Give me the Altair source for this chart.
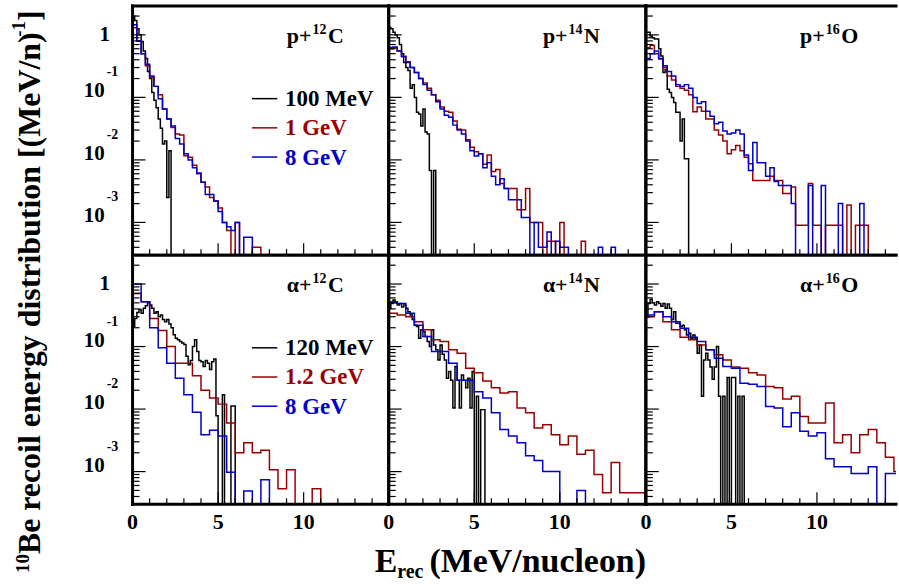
import altair as alt
import pandas as pd

FONT = "Liberation Serif"
BLACK, RED, BLUE = "#000000", "#990000", "#0000cc"

# ---------------- data ----------------
BW_BLACK = 0.125   # bin width of the low-energy histograms (MeV/nucleon)
BW_P = 0.25        # bin width of p 1 GeV / 8 GeV histograms
BW_A = 0.5         # bin width of alpha 1.2 GeV / 8 GeV histograms

p12C_100MeV = [2.0, 1.7, 1.25, 1.0, 0.78, 0.55, 0.42, 0.26, 0.2, 0.12, 0.09, 0.068,
               0.045, 0.032, 0.018, 0.02, 0.0025, 0.014]
p12C_1GeV = [1.3, 0.8, 0.5, 0.32, 0.21, 0.15, 0.11, 0.065, 0.045, 0.033, 0.026, 0.025,
             0.0117, 0.011, 0.0082, 0.006, 0.0044, 0.0037, 0.0025, 0.0022, 0.0017, 0.001,
             0.00074, 0, 0.001, 0, 0, 0, 0.0004, 0.0004]
p12C_8GeV = [1.45, 0.8, 0.5, 0.34, 0.22, 0.15, 0.095, 0.065, 0.045, 0.035, 0.022, 0.018,
             0.0125, 0.01, 0.0075, 0.0062, 0.0044, 0.0028, 0.0028, 0.0022, 0.0015, 0.001,
             0.00085, 0.00074, 0.001, 0, 0.00058, 0.00058]

p14N_100MeV = [1.31, 1.25, 1.1, 1.0, 0.9, 0.7, 0.5, 0.36, 0.3, 0.27, 0.14, 0.16, 0.1,
               0.058, 0.054, 0.035, 0.065, 0.028, 0.026, 0.0068, 0, 0.0068]
p14N_1GeV = [0.6, 0.62, 0.55, 0.45, 0.37, 0.3, 0.25, 0.2, 0.17, 0.14, 0.11, 0.09, 0.07,
             0.06, 0.058, 0.042, 0.031, 0.03, 0.021, 0.016, 0.0135, 0.0125, 0.0085, 0.012,
             0.0065, 0.007, 0.0042, 0.0035, 0.0035, 0.0035, 0.0016, 0.0016, 0.0035, 0.001,
             0.001, 0.001, 0, 0.0005, 0.0005, 0, 0.001, 0, 0, 0, 0, 0.0005]
p14N_8GeV = [0.63, 0.64, 0.55, 0.45, 0.36, 0.3, 0.25, 0.2, 0.16, 0.13, 0.11, 0.085, 0.065,
             0.052, 0.048, 0.036, 0.03, 0.026, 0.02, 0.014, 0.0115, 0.0125, 0.0075, 0.009,
             0.0055, 0.004, 0.005, 0.0035, 0.0023, 0.0023, 0.0023, 0.0012, 0.0012, 0, 0.001,
             0.0004, 0.0004, 0.0007, 0, 0.0005, 0.0004, 0.0004, 0, 0, 0, 0, 0, 0, 0, 0.0004,
             0, 0, 0.0004]

p16O_100MeV = [1.1, 1.1, 0.96, 0.9, 0.86, 0.86, 0.6, 0.46, 0.25, 0.28, 0.135, 0.12, 0.1,
               0.083, 0.058, 0.058, 0.02, 0.045, 0.0104, 0.0104]
p16O_1GeV = [0.62, 0.68, 0.5, 0.41, 0.3, 0.22, 0.19, 0.15, 0.14, 0.13, 0.11, 0.059, 0.07,
             0.06, 0.045, 0.045, 0.03, 0.025, 0.02, 0.0125, 0.0145, 0.017, 0.014, 0.011,
             0.0087, 0.0047, 0.0047, 0.0047, 0.0047, 0.0055, 0.0047, 0.0047, 0.0029, 0.0029,
             0.0037, 0.0009, 0.0009, 0.0009, 0.0042, 0.0009, 0.0009, 0, 0.0009, 0.0009,
             0.0009, 0.0009, 0, 0.0019, 0, 0.0009, 0.0009, 0.0009]
p16O_8GeV = [0.42, 0.5, 0.55, 0.42, 0.32, 0.26, 0.22, 0.16, 0.15, 0.16, 0.14, 0.1, 0.08,
             0.085, 0.06, 0.05, 0.038, 0.04, 0.029, 0.026, 0.027, 0.03, 0.026, 0.012, 0.0068,
             0.019, 0.009, 0.009, 0.0055, 0.0075, 0.0045, 0.0039, 0.0039, 0.0039, 0.002, 0, 0,
             0, 0.0039, 0, 0, 0.0039, 0, 0, 0, 0.002, 0, 0, 0, 0, 0.002]

a12C_120MeV = [0.21, 0.28, 0.35, 0.39, 0.34, 0.41, 0.45, 0.5, 0.46, 0.41, 0.34, 0.36, 0.3,
               0.32, 0.27, 0.25, 0.27, 0.23, 0.2, 0.154, 0.136, 0.128, 0.12, 0.114, 0.108,
               0.07, 0.051, 0.06, 0.1, 0.128, 0.083, 0.06, 0.057, 0.048, 0.06, 0.054, 0.043,
               0.057, 0.063, 0.0078, 0, 0, 0.017, 0, 0, 0, 0.0112, 0.0112]
a12C_1200MeV = [0.71, 0.52, 0.28, 0.18, 0.1, 0.054, 0.054, 0.034, 0.02, 0.015, 0.012,
                0.006, 0.002, 0.0029, 0.002, 0.0022, 0.00107, 0.00053, 0.00107, 0, 0, 0.00053]
a12C_8GeV = [1.0, 0.52, 0.2, 0.096, 0.054, 0.031, 0.017, 0.0089, 0.0039, 0.0046, 0.0037,
             0.00098, 0, 0.00049, 0, 0.00074]

a14N_120MeV = [0.41, 0.49, 0.556, 0.5, 0.46, 0.49, 0.43, 0.46, 0.41, 0.36, 0.32, 0.27, 0.22,
               0.21, 0.136, 0.185, 0.174, 0.145, 0.12, 0.1, 0.185, 0.106, 0.089, 0.061, 0.106,
               0.075, 0.061, 0.031, 0.04, 0.029, 0.0104, 0.048, 0.029, 0.0104, 0.035, 0.029,
               0.022, 0.031, 0.0104, 0.04, 0, 0.016, 0, 0.0098, 0.0098]
a14N_1200MeV = [0.34, 0.32, 0.3, 0.25, 0.185, 0.128, 0.12, 0.089, 0.078, 0.045, 0.038, 0.028,
                0.022, 0.018, 0.019, 0.0104, 0.0087, 0.005, 0.0056, 0.0039, 0.0027, 0.0037,
                0.0019, 0.0022, 0.0009, 0.00046, 0.0014, 0.00046, 0.00046, 0.00046]
a14N_8GeV = [0.52, 0.49, 0.34, 0.22, 0.145, 0.083, 0.083, 0.054, 0.029, 0.029, 0.019, 0.015,
             0.0087, 0.0047, 0.0037, 0.0029, 0.0018, 0.0015, 0.001, 0.001, 0, 0, 0.0005]

a16O_120MeV = [0.3, 0.49, 0.57, 0.5, 0.46, 0.52, 0.49, 0.44, 0.49, 0.41, 0.48, 0.41, 0.27,
               0.36, 0.236, 0.236, 0.21, 0.22, 0.185, 0.153, 0.163, 0.136, 0.153, 0.136, 0.078,
               0.106, 0.016, 0.061, 0.078, 0.061, 0.047, 0.03, 0.047, 0.1, 0.016, 0, 0.016, 0,
               0.032, 0, 0.032, 0.032, 0, 0.016, 0, 0.016]
a16O_1200MeV = [0.3, 0.36, 0.25, 0.185, 0.141, 0.128, 0.106, 0.089, 0.074, 0.061, 0.047,
                0.045, 0.038, 0.035, 0.023, 0.022, 0.0145, 0.016, 0.0076, 0.006, 0.006, 0.0125,
                0.0029, 0.0039, 0.002, 0.0039, 0.0047, 0.0029, 0.0017, 0.001]
a16O_8GeV = [0.32, 0.36, 0.3, 0.25, 0.196, 0.141, 0.12, 0.089, 0.065, 0.048, 0.045, 0.026,
             0.025, 0.023, 0.011, 0.0104, 0.0052, 0.0087, 0.0044, 0.0037, 0.0042, 0.0016,
             0.0012, 0.0012, 0.00093, 0.00093, 0.0012, 0, 0.00093, 0.00093]

P_LEGEND = ["100 MeV", "1 GeV", "8 GeV"]
A_LEGEND = ["120 MeV", "1.2 GeV", "8 GeV"]
COLORS = [BLACK, RED, BLUE]

PANELS = [
    [("p+", "12", "C", [p12C_100MeV, p12C_1GeV, p12C_8GeV], [BW_BLACK, BW_P, BW_P], P_LEGEND),
     ("p+", "14", "N", [p14N_100MeV, p14N_1GeV, p14N_8GeV], [BW_BLACK, BW_P, BW_P], None),
     ("p+", "16", "O", [p16O_100MeV, p16O_1GeV, p16O_8GeV], [BW_BLACK, BW_P, BW_P], None)],
    [("\u03b1+", "12", "C", [a12C_120MeV, a12C_1200MeV, a12C_8GeV], [BW_BLACK, BW_A, BW_A], A_LEGEND),
     ("\u03b1+", "14", "N", [a14N_120MeV, a14N_1200MeV, a14N_8GeV], [BW_BLACK, BW_A, BW_A], None),
     ("\u03b1+", "16", "O", [a16O_120MeV, a16O_1200MeV, a16O_8GeV], [BW_BLACK, BW_A, BW_A], None)],
]

Y_MAJOR = [0.001, 0.01, 0.1, 1.0]
Y_MINOR = [3e-4, 4e-4, 5e-4, 6e-4, 7e-4, 8e-4, 9e-4,
           2e-3, 3e-3, 4e-3, 5e-3, 6e-3, 7e-3, 8e-3, 9e-3,
           0.02, 0.03, 0.04, 0.05, 0.06, 0.07, 0.08, 0.09,
           0.2, 0.3, 0.4, 0.5, 0.6, 0.7, 0.8, 0.9, 2.0]
X_MAJOR = [0, 5, 10, 15]
X_MINOR = [1, 2, 3, 4, 6, 7, 8, 9, 11, 12, 13, 14]
Y_LABEL_VALUES = [0.1, 0.01, 0.001]
Y_LABEL_EXPONENTS = ["-1", "-2", "-3"]
X_LABEL_VALUES = [0, 5, 10]

# ---------------- layout constants ----------------
Y_DOMAIN = [3e-4, 2.9]
PX_PER_UNIT = 257.5 / 15.0
COL_WIDTHS = [257, 258, 251]
ROW_H = 250


def steps(values, bw):
    xs = [0.0] + [i * bw for i in range(len(values))] + [len(values) * bw]
    vs = [0.0] + list(values) + [0.0]
    return pd.DataFrame({"x": xs, "v": vs, "i": list(range(len(xs)))})


def txt(label, x, y, size, color="black", align="left", baseline="alphabetic", angle=None,
        weight="bold"):
    kw = dict(align=align, baseline=baseline, font=FONT, fontWeight=weight, fontSize=size,
              color=color)
    if angle is not None:
        kw["angle"] = angle
    return alt.Chart(pd.DataFrame({"label": [label]})).mark_text(**kw).encode(
        x=alt.value(x), y=alt.value(y), text="label:N")


def hrule(x1, x2, y, width=3, color="black"):
    return alt.Chart(pd.DataFrame({"k": [0]})).mark_rule(
        color=color, strokeWidth=width, strokeCap="square").encode(
        x=alt.value(x1), x2=alt.value(x2), y=alt.value(y))


def vrule(x, y1, y2, width=3, color="black"):
    return alt.Chart(pd.DataFrame({"k": [0]})).mark_rule(
        color=color, strokeWidth=width, strokeCap="square").encode(
        x=alt.value(x), y=alt.value(y1), y2=alt.value(y2))


def panel(r, c):
    prefix, mass, elem, series, bws, legend = PANELS[r][c]
    W, H = COL_WIDTHS[c], ROW_H
    xmax = W / PX_PER_UNIT
    xs = alt.Scale(domain=[0, xmax], nice=False, zero=False)
    ys = alt.Scale(type="log", domain=Y_DOMAIN, nice=False)
    layers = []
    for vals, bw, color in zip(series, bws, COLORS):
        layers.append(
            alt.Chart(steps(vals, bw)).transform_calculate(vp="max(datum.v, 1e-6)")
            .mark_line(interpolate="step-after", clip=True, color=color, strokeWidth=1.5)
            .encode(x=alt.X("x:Q", scale=xs, axis=None),
                    y=alt.Y("vp:Q", scale=ys, axis=None),
                    order=alt.Order("i:Q")))
    # ticks (inside)
    layers.append(alt.Chart(pd.DataFrame({"t": Y_MAJOR})).mark_rule(color="black", strokeWidth=1.2)
                  .encode(y=alt.Y("t:Q", scale=ys, axis=None), x=alt.value(0), x2=alt.value(13)))
    layers.append(alt.Chart(pd.DataFrame({"t": Y_MINOR})).mark_rule(color="black", strokeWidth=1.2)
                  .encode(y=alt.Y("t:Q", scale=ys, axis=None), x=alt.value(0), x2=alt.value(7)))
    layers.append(alt.Chart(pd.DataFrame({"t": [t for t in X_MAJOR if t < xmax]}))
                  .mark_rule(color="black", strokeWidth=1.2)
                  .encode(x=alt.X("t:Q", scale=xs, axis=None), y=alt.value(H), y2=alt.value(H - 12)))
    layers.append(alt.Chart(pd.DataFrame({"t": [t for t in X_MINOR if t < xmax]}))
                  .mark_rule(color="black", strokeWidth=1.2)
                  .encode(x=alt.X("t:Q", scale=xs, axis=None), y=alt.value(H), y2=alt.value(H - 6)))
    # frame
    layers += [hrule(0, W, 0), hrule(0, W, H), vrule(0, 0, H)]
    if c < 2:
        layers.append(vrule(W, 0, H))
    # panel label
    layers += [txt(prefix, 179.5, 37, 22, align="right"),
               txt(mass, 180.5, 28, 14),
               txt(elem, 196, 37, 22)]
    # legend
    if legend:
        for k, (lab, color) in enumerate(zip(legend, COLORS)):
            yy = 93 + 29.3 * k
            layers.append(hrule(120.5, 144.5, yy, width=1.5, color=color))
            layers.append(txt(lab, 153, yy + 7.5, 23, color=color))
    # y tick labels
    if c == 0:
        layers.append(alt.Chart(pd.DataFrame({"t": [1.0], "lab": ["1"]}))
                      .mark_text(align="center", baseline="middle", font=FONT, fontWeight="bold",
                                 fontSize=21, color="black")
                      .encode(y=alt.Y("t:Q", scale=ys, axis=None), x=alt.value(-28), text="lab:N"))
        layers.append(alt.Chart(pd.DataFrame({"t": Y_LABEL_VALUES, "lab": ["10"] * 3}))
                      .mark_text(align="right", baseline="alphabetic", font=FONT, fontWeight="bold",
                                 fontSize=21, color="black")
                      .encode(y=alt.Y("t:Q", scale=ys, axis=None), x=alt.value(-28), text="lab:N"))
        layers.append(alt.Chart(pd.DataFrame({"t": Y_LABEL_VALUES, "lab": Y_LABEL_EXPONENTS}))
                      .mark_text(align="left", baseline="alphabetic", font=FONT, fontWeight="bold",
                                 fontSize=14, color="black", dy=-21)
                      .encode(y=alt.Y("t:Q", scale=ys, axis=None), x=alt.value(-26), text="lab:N"))
    # x tick labels
    if r == 1:
        layers.append(alt.Chart(pd.DataFrame({"t": X_LABEL_VALUES, "lab": [str(v) for v in X_LABEL_VALUES]}))
                      .mark_text(align="center", baseline="alphabetic", font=FONT, fontWeight="bold",
                                 fontSize=22, color="black")
                      .encode(x=alt.X("t:Q", scale=xs, axis=None), y=alt.value(H + 25), text="lab:N"))
    # axis titles
    if r == 0 and c == 0:
        xb = -93
        layers += [txt("10", xb - 11, 569, 19, angle=270),
                   txt("Be recoil energy distribution [(MeV/n)", xb, 550, 32, angle=270),
                   txt("-1", xb - 15, 31, 19, angle=270),
                   txt("]", xb, 15, 32, angle=270)]
        # invisible anchor fixing the top-left corner of the page
        layers.append(alt.Chart(pd.DataFrame({"k": [0]})).mark_rule(strokeOpacity=0, strokeWidth=1)
                      .encode(x=alt.value(-132.5), x2=alt.value(-132.5), y=alt.value(-4.5),
                              y2=alt.value(0)))
    if r == 1 and c == 1:
        layers += [txt("E", -14, 318, 34),
                   txt("rec", 8.5, 324, 20),
                   txt("(MeV/nucleon)", 41, 318, 34)]
    return alt.layer(*layers).properties(width=W, height=H)


chart = (alt.concat(*[panel(r, c) for r in range(2) for c in range(3)],
                    columns=3, spacing=0, bounds="flush")
         .properties(padding=0, background="white")
         .configure_view(strokeWidth=0, stroke="transparent"))

chart.save("out.html", embed_options={"renderer": "svg", "actions": False})
